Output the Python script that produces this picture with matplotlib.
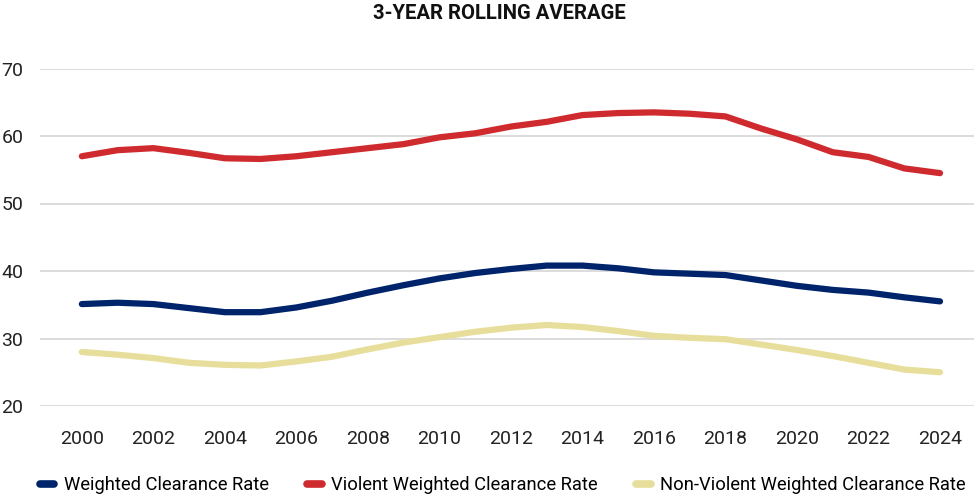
import numpy as np
import matplotlib
matplotlib.use("Agg")
import matplotlib.pyplot as plt

plt.rcParams['font.family'] = ['Roboto', 'DejaVu Sans']

years = list(range(2000, 2025))

weighted = [35.1, 35.3, 35.1, 34.5, 33.9, 33.9, 34.6, 35.6, 36.8, 37.9, 38.9, 39.7,
            40.3, 40.8, 40.8, 40.4, 39.8, 39.6, 39.4, 38.6, 37.8, 37.2, 36.8, 36.1, 35.5]
violent = [57.0, 57.9, 58.2, 57.5, 56.7, 56.6, 57.0, 57.6, 58.2, 58.8, 59.8, 60.4,
           61.4, 62.1, 63.1, 63.4, 63.5, 63.3, 62.9, 61.1, 59.5, 57.6, 56.9, 55.2, 54.5]
nonviolent = [28.0, 27.6, 27.1, 26.4, 26.1, 26.0, 26.6, 27.3, 28.4, 29.4, 30.2, 31.0,
              31.6, 32.0, 31.7, 31.1, 30.4, 30.1, 29.9, 29.1, 28.3, 27.4, 26.4, 25.4, 25.0]

labels = ["Weighted Clearance Rate", "Violent Weighted Clearance Rate",
          "Non-Violent Weighted Clearance Rate"]
colors = ["#00246B", "#CF2B2E", "#E8DE9C"]

fig = plt.figure(figsize=(9.74, 4.96), dpi=100)
ax = fig.add_axes([40 / 974, 1 - 406 / 496, 934 / 974, (406 - 68.5) / 496])

for vals, lab, col in zip([weighted, violent, nonviolent], labels, colors):
    ax.plot(years, vals, color=col, lw=4.5, solid_capstyle='round',
            solid_joinstyle='round', label=lab, zorder=3)

ax.set_xlim(1998.83, 2024.95)
ax.set_ylim(20, 70)
ax.set_yticks([20, 30, 40, 50, 60, 70])
ax.set_xticks(list(range(2000, 2025, 2)))
ax.grid(axis='y', color='#d9d9d9', lw=1.3)
ax.set_axisbelow(True)
for s in ax.spines.values():
    s.set_visible(False)
ax.tick_params(axis='both', length=0, labelsize=14, colors='#222222')
ax.tick_params(axis='y', pad=12)
ax.tick_params(axis='x', pad=17)

fig.text(0.513, 0.972, "3-YEAR ROLLING AVERAGE", ha='center', va='center',
         fontsize=14.6, fontweight='bold', color='#111111')

leg = fig.legend(loc='center', bbox_to_anchor=(0.516, 0.022), ncol=3, frameon=False,
                 fontsize=13.2, handlelength=0.8, handletextpad=0.5, columnspacing=2.1)
for h in leg.get_lines():
    h.set_linewidth(5.5)
    h.set_solid_capstyle('round')

fig.savefig("out.png", dpi=100)
